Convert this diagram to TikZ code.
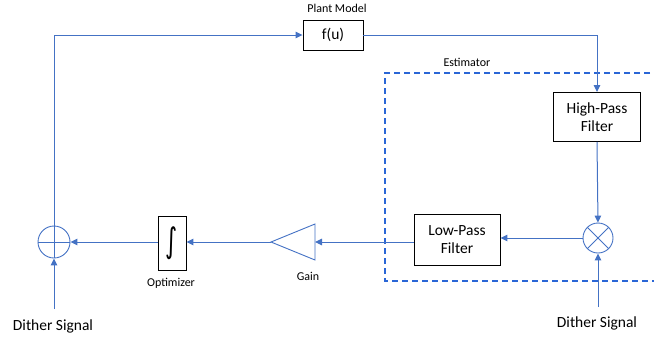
\documentclass[tikz,border=0pt]{standalone}
\usepackage{fontspec}
\setmainfont{Carlito}
\newfontfamily\intfont{DejaVu Sans}
\usetikzlibrary{arrows.meta,calc}
\definecolor{lineblue}{HTML}{4472C4}
\definecolor{dashblue}{HTML}{2A66D6}
\tikzset{
  block/.style={draw=black, fill=white, line width=0.9pt, align=center, inner sep=0pt, font=\fontsize{15.5}{18}\selectfont},
  junction/.style={circle, draw=lineblue, line width=0.9pt, minimum size=30pt, inner sep=0pt},
  signal/.style={draw=lineblue, line width=1pt, -{Triangle[length=7pt,width=6.5pt]}},
  tag/.style={font=\fontsize{12}{14}\selectfont},
  bigtag/.style={font=\fontsize{15.5}{18}\selectfont}
}
\begin{document}
\begin{tikzpicture}[x=1pt,y=-1pt]
  \useasboundingbox (0,0) rectangle (654,338);
  % estimator frame
  \begin{scope}
    \clip (0,0) rectangle (654,338);
    \draw[dashblue, line width=1.05pt, dash pattern=on 6pt off 4pt] (660,73) -- (385,73) -- (385,281) -- (660,281);
  \end{scope}
  \node[tag, anchor=west] (esttag) at (440,62) {Estimator};
  % blocks
  \node[block, minimum width=60pt, minimum height=30pt] (plant) at (333,35) {f(u)};
  \node[tag] (planttag) at (337,8) {Plant Model};
  \node[block, minimum width=87pt, minimum height=49pt] (hpf) at (597,117) {High-Pass\\Filter};
  \node[junction] (mult) at (598,238) {};
  \draw[lineblue, line width=0.9pt] (mult.north west) -- (mult.south east) (mult.north east) -- (mult.south west);
  \node[block, minimum width=86pt, minimum height=51pt] (lpf) at (457,240) {Low-Pass\\Filter};
  \coordinate (gaintip) at (271,242);
  \coordinate (gainbase) at (315,242);
  \draw[lineblue, line width=0.9pt] (gaintip) -- ($(gainbase)+(0,-18)$) -- ($(gainbase)+(0,18)$) -- cycle;
  \node[tag] (gaintag) at (308,276) {Gain};
  \node[block, minimum width=28pt, minimum height=54pt] (integ) at (172,243) {\scalebox{1.5}[2.2]{\intfont ∫}};
  \node[tag] (integtag) at (171,283) {Optimizer};
  \node[junction, minimum size=32pt] (sum) at (54,242) {};
  \draw[lineblue, line width=0.9pt] (sum.north) -- (sum.south) (sum.west) -- (sum.east);
  % dither inputs
  \node[bigtag] (dithl) at (53,326) {Dither Signal};
  \node[bigtag] (dithr) at (597,323) {Dither Signal};
  \coordinate (dithlend) at (54,309);
  \coordinate (dithrend) at (598,307);
  % connectors
  \draw[signal] (sum.north) |- (plant.west);
  \draw[signal] (plant.east) -| (hpf.north);
  \draw[signal] (hpf.south) -- (mult.north);
  \draw[signal] (dithrend) -- (mult.south);
  \draw[signal] (mult.west) -- (mult.west -| lpf.east);
  \draw[signal] (lpf.west |- gainbase) -- (gainbase);
  \draw[signal] (gaintip) -- (gaintip -| integ.east);
  \draw[signal] (integ.west |- sum.east) -- (sum.east);
  \draw[signal] (dithlend) -- (sum.south);
\end{tikzpicture}
\end{document}
